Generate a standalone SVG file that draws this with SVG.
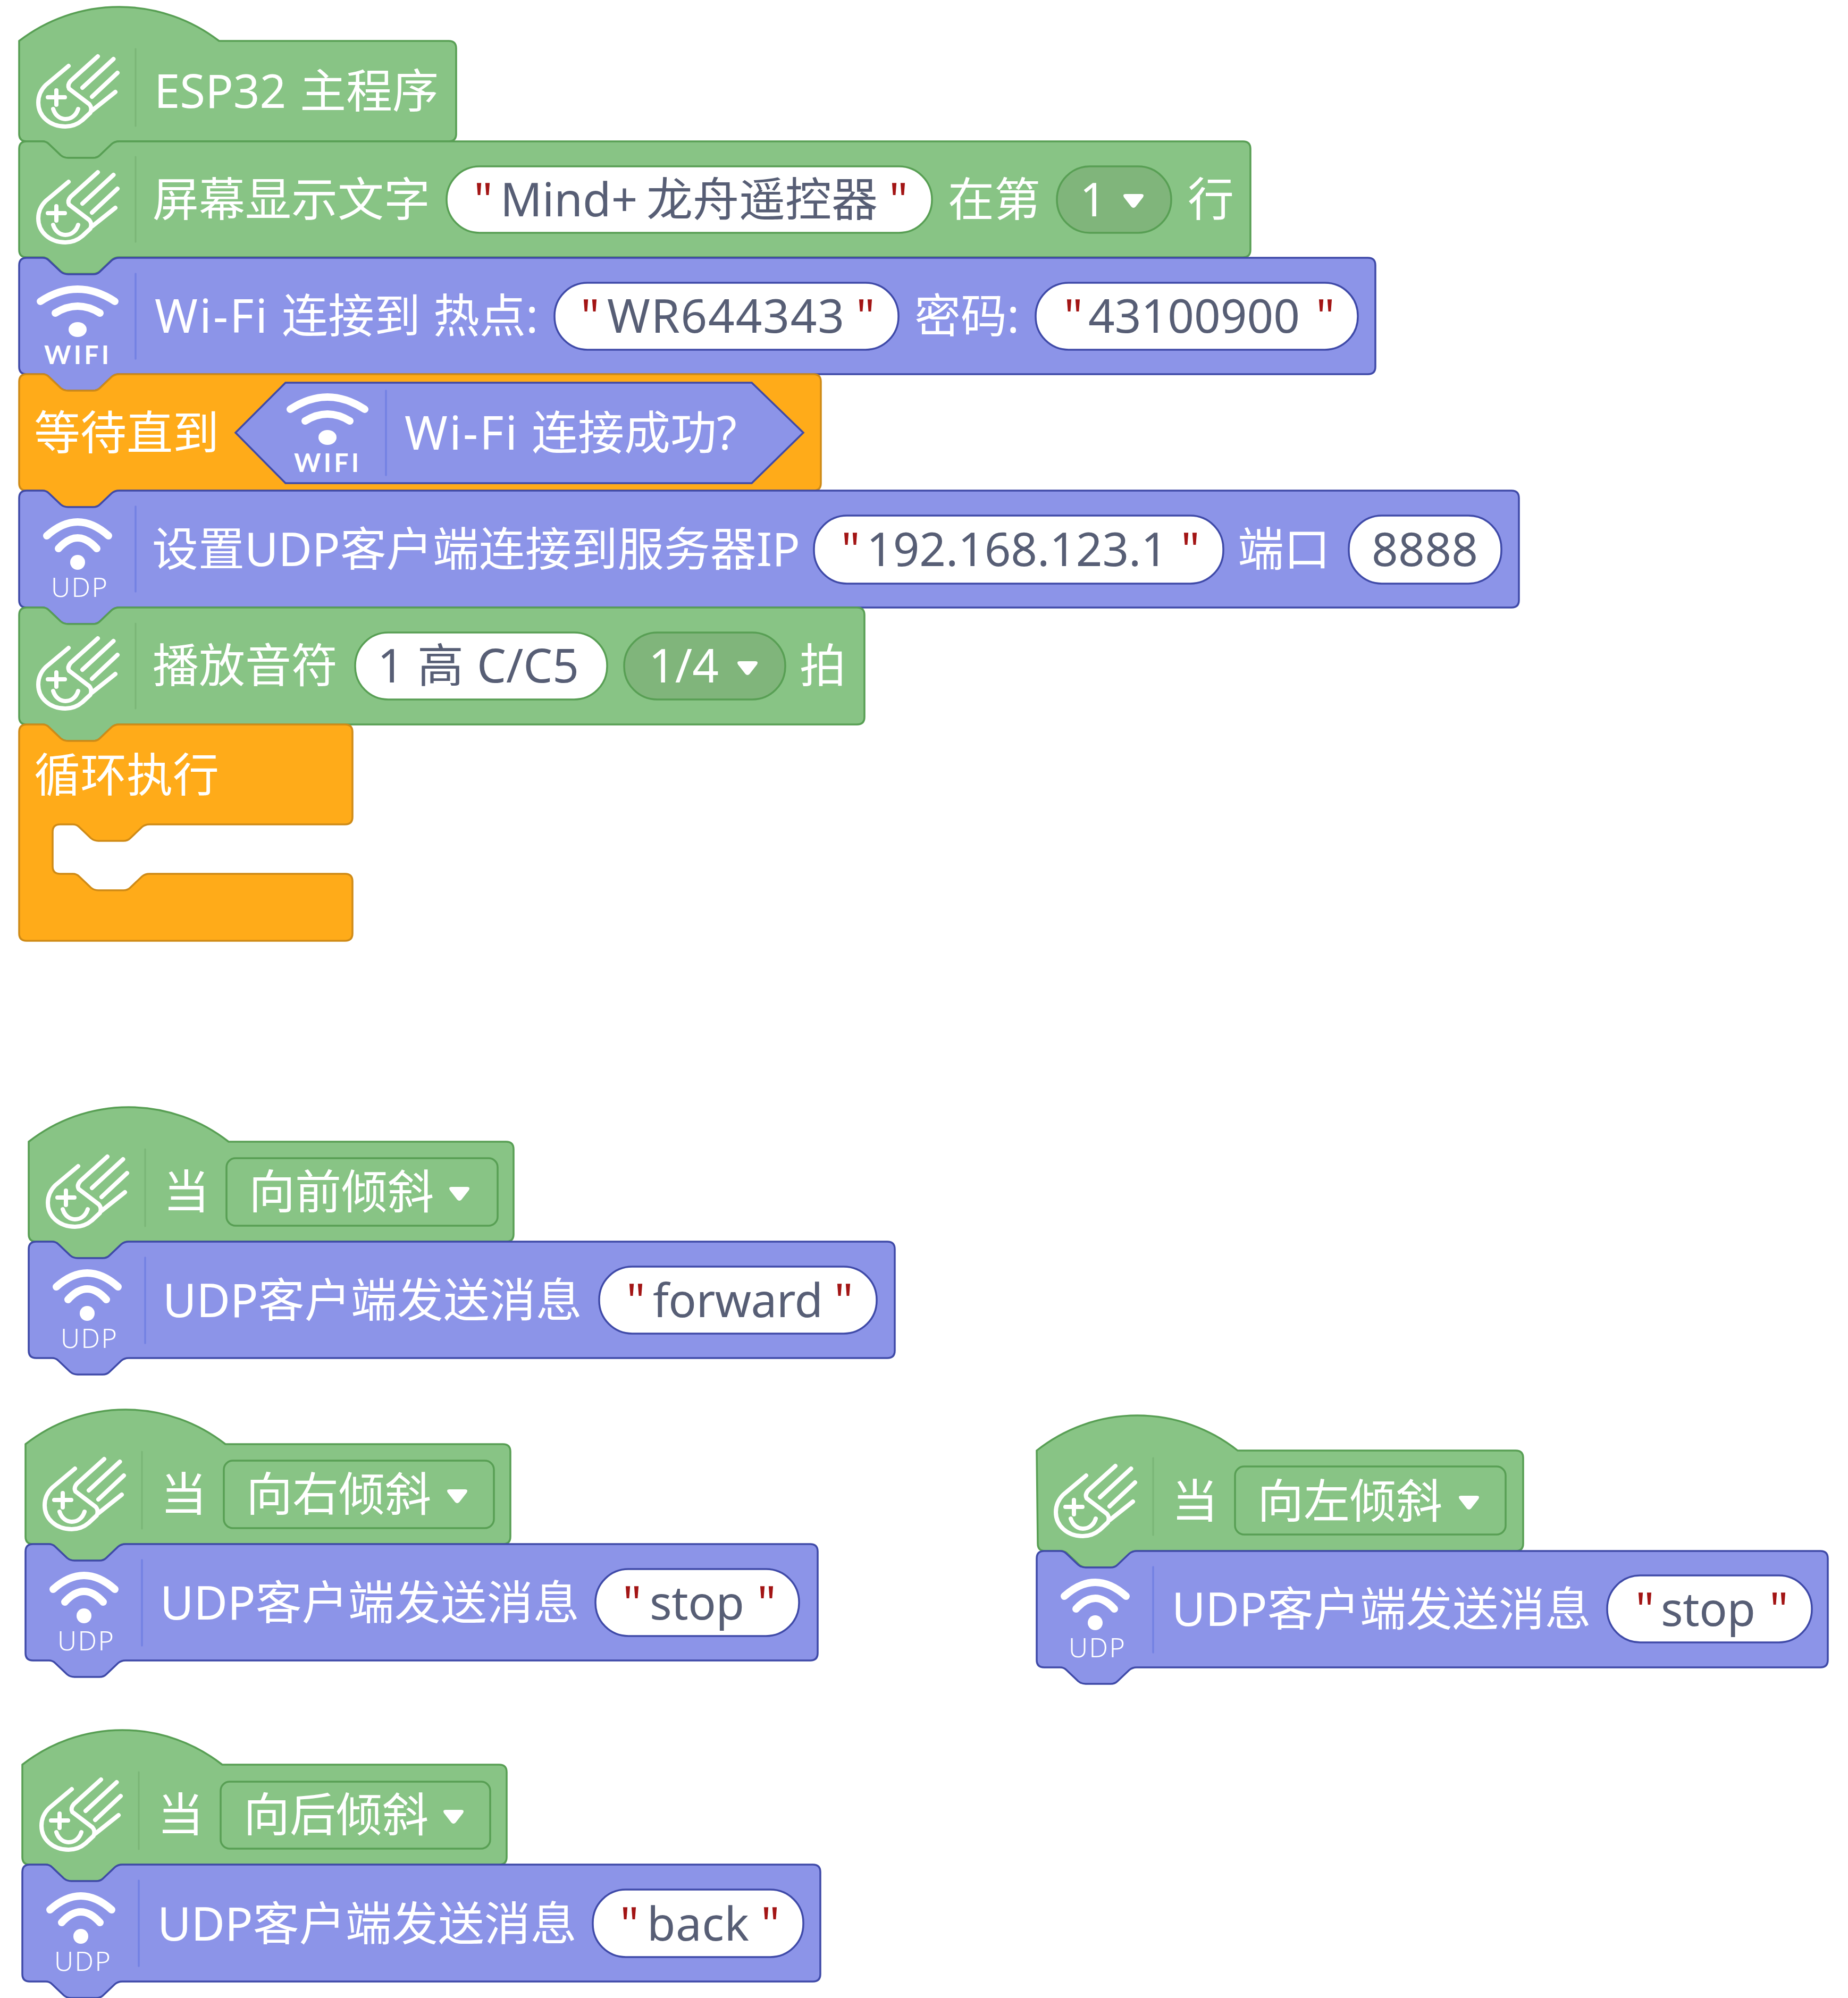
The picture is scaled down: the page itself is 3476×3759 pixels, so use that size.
<svg xmlns="http://www.w3.org/2000/svg" width="3476" height="3759" viewBox="0 0 3476 3759">
<style>
text{font-family:"Noto Sans","Noto Sans CJK SC",sans-serif;font-size:87px;font-weight:400}
.t{fill:#fff}.v{fill:#575e75}.q{fill:#a31515;text-anchor:middle}
.s{fill:#fff;font-size:50px;font-weight:300}.w{fill:#fff;font-family:Lato,"Noto Sans",sans-serif;font-size:48px;font-weight:700}
.g{fill:#88c485;stroke:#589f54;stroke-width:3.5}.b{fill:#8c94e8;stroke:#3f4aa8;stroke-width:3.5}.o{fill:#ffab19;stroke:#cf8b17;stroke-width:3.5}
.pg{fill:#fff;stroke:#589f54;stroke-width:3.5}.pb{fill:#fff;stroke:#3f4aa8;stroke-width:3.5}
.dg{fill:#80b57b;stroke:#589f54;stroke-width:3.5}.hd{fill:#88c485;stroke:#589f54;stroke-width:3.5}
.dvg{stroke:#7ab577;stroke-width:3;stroke-linecap:round}.dvb{stroke:#7381e3;stroke-width:3.5;stroke-linecap:round}
.ic{fill:none;stroke:#fff;stroke-linecap:round;stroke-linejoin:round}
</style>
<defs>
<g id="ml" class="ic" stroke-width="8"><path d="M148,58 L97,104 Q90,112 94,119 L132,148 Q138,155 134,164 L119,178 Q105,190 87,190 C57,190 36,170 36,145 C36,130 42,120 50,112 L93,76"/><path d="M177.5,63 L119,117 M185,89 L137,134 M181,125 L137,160 M54,135 H86 M70,122 V149"/><path d="M64,157 C68,170 78,176 87,176 C97,176 107,170 111,157"/></g>
<g id="wifi"><path class="ic" stroke-width="14" d="M40,82 Q110,36 180,82 M68,104 Q110,78 152,104"/><ellipse cx="110" cy="135" rx="17" ry="14" fill="#fff"/></g>
<g id="udp"><path class="ic" stroke-width="14" d="M52,85 Q110,33 168,85 M74,109 Q110,69 146,109"/><ellipse cx="110" cy="135" rx="14" ry="14" fill="#fff"/></g>
<path id="arr" fill="#fff" d="M-15,-13 H15 Q21,-13 18,-7 L4,11 Q0,15 -4,11 L-18,-7 Q-21,-13 -15,-13 Z"/>
</defs>

<g id="block-main">
<path class="g" d="M36,77 a308,308 0 0 1 376,0 h432 q14,0 14,14 v161 q0,14 -14,14 h-620 q-8,0 -14,5 l-22,21 q-5,5 -13,5 h-47 q-8,0 -14,-5 l-22,-21 q-5,-5 -12,-5 h-30 q-14,0 -14,-14 z"/>
<use href="#ml" transform="translate(36,48)"/>
<line class="dvg" x1="255" y1="92" x2="255" y2="237"/>
<text class="t" x="290" y="203">ESP32</text>
<text class="t" x="564" y="203">主程序</text>
</g>

<g id="block-screen">
<path class="g" d="M36,280 q0,-14 14,-14 h30 q7,0 12,5 l22,21 q6,5 14,5 h47 q8,0 13,-5 l22,-21 q6,-5 14,-5 h2114 q14,0 14,14 v190 q0,14 -14,14 h-2114 q-8,0 -14,5 l-22,21 q-5,5 -13,5 h-47 q-8,0 -14,-5 l-22,-21 q-5,-5 -12,-5 h-30 q-14,0 -14,-14 z"/>
<use href="#ml" transform="translate(36,266)"/>
<line class="dvg" x1="255" y1="295" x2="255" y2="455"/>
<text class="t" x="287" y="407">屏幕显示文字</text>
<rect class="pg" x="840" y="313" width="913" height="125" rx="62"/>
<text class="q" x="909" y="407">"</text>
<text class="v" x="941" y="407">Mind+</text>
<text class="v" x="1216" y="407">龙舟遥控器</text>
<text class="q" x="1690" y="407">"</text>
<text class="t" x="1783" y="407">在第</text>
<rect class="dg" x="1988" y="313" width="215" height="125" rx="62"/>
<text class="t" x="2031" y="407">1</text>
<use href="#arr" x="2132" y="378"/>
<text class="t" x="2234" y="407">行</text>
</g>

<g id="block-wifi-connect">
<path class="b" d="M36,499 q0,-14 14,-14 h30 q7,0 12,5 l22,21 q6,5 14,5 h47 q8,0 13,-5 l22,-21 q6,-5 14,-5 h2349 q14,0 14,14 v191 q0,14 -14,14 h-2349 q-8,0 -14,5 l-22,21 q-5,5 -13,5 h-47 q-8,0 -14,-5 l-22,-21 q-5,-5 -12,-5 h-30 q-14,0 -14,-14 z"/>
<use href="#wifi" transform="translate(36,485)"/>
<text class="w" x="83" y="685" textLength="122">WIFI</text>
<line class="dvb" x1="255" y1="515" x2="255" y2="675"/>
<text class="t" x="291" y="626" textLength="212">Wi-Fi</text>
<text class="t" x="530" y="626">连接到</text>
<text class="t" x="815" y="626">热点:</text>
<rect class="pb" x="1043" y="532" width="647" height="126" rx="62"/>
<text class="q" x="1110" y="626">"</text>
<text class="v" x="1142" y="626" textLength="446">WR644343</text>
<text class="q" x="1628" y="626">"</text>
<text class="t" x="1720" y="626">密码:</text>
<rect class="pb" x="1948" y="532" width="606" height="126" rx="62"/>
<text class="q" x="2019" y="626">"</text>
<text class="v" x="2047" y="626">43100900</text>
<text class="q" x="2493" y="626">"</text>
</g>

<g id="block-wait">
<path class="o" d="M36,718 q0,-14 14,-14 h30 q7,0 12,5 l22,21 q6,5 14,5 h47 q8,0 13,-5 l22,-21 q6,-5 14,-5 h1306 q14,0 14,14 v191 q0,14 -14,14 h-1306 q-8,0 -14,5 l-22,21 q-5,5 -13,5 h-47 q-8,0 -14,-5 l-22,-21 q-5,-5 -12,-5 h-30 q-14,0 -14,-14 z"/>
<text class="t" x="64" y="846">等待直到</text>
<path class="b" d="M537,720 H1414 L1511,814 L1414,909 H537 L443,814 Z"/>
<use href="#wifi" transform="translate(506,688)"/>
<text class="w" x="553" y="888" textLength="122">WIFI</text>
<line class="dvb" x1="726" y1="735" x2="726" y2="894"/>
<text class="t" x="761" y="846" textLength="212">Wi-Fi</text>
<text class="t" x="1000" y="846">连接成功?</text>
</g>

<g id="block-udp-connect">
<path class="b" d="M36,937 q0,-14 14,-14 h30 q7,0 12,5 l22,21 q6,5 14,5 h47 q8,0 13,-5 l22,-21 q6,-5 14,-5 h2619 q14,0 14,14 v192 q0,14 -14,14 h-2619 q-8,0 -14,5 l-22,21 q-5,5 -13,5 h-47 q-8,0 -14,-5 l-22,-21 q-5,-5 -12,-5 h-30 q-14,0 -14,-14 z"/>
<use href="#udp" transform="translate(36,923)"/>
<text class="s" x="96" y="1123" textLength="106">UDP</text>
<line class="dvb" x1="255" y1="953" x2="255" y2="1113"/>
<text class="t" x="286" y="1065">设置UDP客户端连接到服务器IP</text>
<rect class="pb" x="1531" y="970" width="770" height="128" rx="62"/>
<text class="q" x="1600" y="1065">"</text>
<text class="v" x="1630" y="1065" textLength="566">192.168.123.1</text>
<text class="q" x="2239" y="1065">"</text>
<text class="t" x="2328" y="1065">端口</text>
<rect class="pb" x="2537" y="970" width="287" height="128" rx="62"/>
<text class="v" x="2580" y="1065" textLength="200">8888</text>
</g>

<g id="block-note">
<path class="g" d="M36,1157 q0,-14 14,-14 h30 q7,0 12,5 l22,21 q6,5 14,5 h47 q8,0 13,-5 l22,-21 q6,-5 14,-5 h1388 q14,0 14,14 v192 q0,14 -14,14 h-1388 q-8,0 -14,5 l-22,21 q-5,5 -13,5 h-47 q-8,0 -14,-5 l-22,-21 q-5,-5 -12,-5 h-30 q-14,0 -14,-14 z"/>
<use href="#ml" transform="translate(36,1143)"/>
<line class="dvg" x1="255" y1="1173" x2="255" y2="1333"/>
<text class="t" x="287" y="1284">播放音符</text>
<rect class="pg" x="668" y="1190" width="474" height="126" rx="62"/>
<text class="v" x="710" y="1284">1</text>
<text class="v" x="785" y="1284">高</text>
<text class="v" x="897" y="1284">C/C5</text>
<rect class="dg" x="1174" y="1190" width="303" height="126" rx="62"/>
<text class="t" x="1220" y="1284">1/4</text>
<use href="#arr" x="1406" y="1257"/>
<text class="t" x="1504" y="1284">拍</text>
</g>

<g id="block-loop">
<path class="o" d="M36,1377 q0,-14 14,-14 h30 q7,0 12,5 l22,21 q6,5 14,5 h47 q8,0 13,-5 l22,-21 q6,-5 14,-5 h425 q14,0 14,14 v160 q0,14 -14,14 h-368 q-8,0 -14,5 l-22,21 q-5,5 -13,5 h-47 q-8,0 -14,-5 l-22,-21 q-5,-5 -12,-5 h-24 q-14,0 -14,14 v65 q0,14 14,14 h24 q7,0 12,5 l22,21 q6,5 14,5 h47 q8,0 13,-5 l22,-21 q6,-5 14,-5 h368 q14,0 14,14 v98 q0,14 -14,14 h-599 q-14,0 -14,-14 z"/>
<text class="t" x="64" y="1490">循环执行</text>
</g>

<g id="hat-forward">
<path class="g" d="M54,2148 a304,304 0 0 1 376,0 h522 q14,0 14,14 v160 q0,14 -14,14 h-710 q-8,0 -14,5 l-22,21 q-5,5 -13,5 h-47 q-8,0 -14,-5 l-22,-21 q-5,-5 -12,-5 h-30 q-14,0 -14,-14 z"/>
<use href="#ml" transform="translate(54,2118)"/>
<line class="dvg" x1="273" y1="2162" x2="273" y2="2307"/>
<text class="t" x="307" y="2274">当</text>
<rect class="hd" x="426" y="2179" width="510" height="127" rx="17"/>
<text class="t" x="468" y="2274">向前倾斜</text>
<use href="#arr" x="864" y="2246"/>
</g>
<g id="send-forward">
<path class="b" d="M54,2350 q0,-14 14,-14 h30 q7,0 12,5 l22,21 q6,5 14,5 h47 q8,0 13,-5 l22,-21 q6,-5 14,-5 h1427 q14,0 14,14 v191 q0,14 -14,14 h-1427 q-8,0 -14,5 l-22,21 q-5,5 -13,5 h-47 q-8,0 -14,-5 l-22,-21 q-5,-5 -12,-5 h-30 q-14,0 -14,-14 z"/>
<use href="#udp" transform="translate(54,2336)"/>
<text class="s" x="114" y="2536" textLength="106">UDP</text>
<line class="dvb" x1="273" y1="2366" x2="273" y2="2527"/>
<text class="t" x="306" y="2478">UDP客户端发送消息</text>
<rect class="pb" x="1127" y="2383" width="522" height="126" rx="62"/>
<text class="q" x="1196" y="2478">"</text>
<text class="v" x="1228" y="2478" textLength="320">forward</text>
<text class="q" x="1587" y="2478">"</text>
</g>

<g id="hat-right">
<path class="g" d="M48,2717 a304,304 0 0 1 376,0 h522 q14,0 14,14 v160 q0,14 -14,14 h-710 q-8,0 -14,5 l-22,21 q-5,5 -13,5 h-47 q-8,0 -14,-5 l-22,-21 q-5,-5 -12,-5 h-30 q-14,0 -14,-14 z"/>
<use href="#ml" transform="translate(48,2687)"/>
<line class="dvg" x1="267" y1="2731" x2="267" y2="2876"/>
<text class="t" x="302" y="2843">当</text>
<rect class="hd" x="421" y="2748" width="508" height="127" rx="17"/>
<text class="t" x="463" y="2843">向右倾斜</text>
<use href="#arr" x="860" y="2815"/>
</g>
<g id="send-right">
<path class="b" d="M48,2919 q0,-14 14,-14 h30 q7,0 12,5 l22,21 q6,5 14,5 h47 q8,0 13,-5 l22,-21 q6,-5 14,-5 h1288 q14,0 14,14 v191 q0,14 -14,14 h-1288 q-8,0 -14,5 l-22,21 q-5,5 -13,5 h-47 q-8,0 -14,-5 l-22,-21 q-5,-5 -12,-5 h-30 q-14,0 -14,-14 z"/>
<use href="#udp" transform="translate(48,2905)"/>
<text class="s" x="108" y="3105" textLength="106">UDP</text>
<line class="dvb" x1="267" y1="2935" x2="267" y2="3096"/>
<text class="t" x="301" y="3047">UDP客户端发送消息</text>
<rect class="pb" x="1120" y="2952" width="383" height="126" rx="62"/>
<text class="q" x="1189" y="3047">"</text>
<text class="v" x="1222" y="3047" textLength="178">stop</text>
<text class="q" x="1442" y="3047">"</text>
</g>

<g id="hat-left">
<path class="g" d="M1950,2729 a304,304 0 0 1 378,0 h523 q14,0 14,14 v161 q0,14 -14,14 h-711 q-8,0 -14,5 l-22,21 q-5,5 -13,5 h-47 q-8,0 -14,-5 l-22,-21 q-5,-5 -12,-5 h-30 q-14,0 -14,-14 z"/>
<use href="#ml" transform="translate(1950,2700)"/>
<line class="dvg" x1="2169" y1="2743" x2="2169" y2="2888"/>
<text class="t" x="2204" y="2856">当</text>
<rect class="hd" x="2323" y="2759" width="509" height="128" rx="17"/>
<text class="t" x="2365" y="2856">向左倾斜</text>
<use href="#arr" x="2763" y="2827"/>
</g>
<g id="send-left">
<path class="b" d="M1950,2932 q0,-14 14,-14 h30 q7,0 12,5 l22,21 q6,5 14,5 h47 q8,0 13,-5 l22,-21 q6,-5 14,-5 h1286 q14,0 14,14 v191 q0,14 -14,14 h-1286 q-8,0 -14,5 l-22,21 q-5,5 -13,5 h-47 q-8,0 -14,-5 l-22,-21 q-5,-5 -12,-5 h-30 q-14,0 -14,-14 z"/>
<use href="#udp" transform="translate(1950,2918)"/>
<text class="s" x="2010" y="3118" textLength="106">UDP</text>
<line class="dvb" x1="2169" y1="2948" x2="2169" y2="3109"/>
<text class="t" x="2204" y="3059">UDP客户端发送消息</text>
<rect class="pb" x="3023" y="2964" width="385" height="126" rx="62"/>
<text class="q" x="3094" y="3059">"</text>
<text class="v" x="3124" y="3059" textLength="178">stop</text>
<text class="q" x="3346" y="3059">"</text>
</g>

<g id="hat-back">
<path class="g" d="M42,3320 a304,304 0 0 1 376,0 h521 q14,0 14,14 v160 q0,14 -14,14 h-709 q-8,0 -14,5 l-22,21 q-5,5 -13,5 h-47 q-8,0 -14,-5 l-22,-21 q-5,-5 -12,-5 h-30 q-14,0 -14,-14 z"/>
<use href="#ml" transform="translate(42,3290)"/>
<line class="dvg" x1="261" y1="3334" x2="261" y2="3479"/>
<text class="t" x="296" y="3446">当</text>
<rect class="hd" x="415" y="3352" width="507" height="126" rx="17"/>
<text class="t" x="458" y="3446">向后倾斜</text>
<use href="#arr" x="853" y="3418"/>
</g>
<g id="send-back">
<path class="b" d="M42,3522 q0,-14 14,-14 h30 q7,0 12,5 l22,21 q6,5 14,5 h47 q8,0 13,-5 l22,-21 q6,-5 14,-5 h1299 q14,0 14,14 v192 q0,14 -14,14 h-1299 q-8,0 -14,5 l-22,21 q-5,5 -13,5 h-47 q-8,0 -14,-5 l-22,-21 q-5,-5 -12,-5 h-30 q-14,0 -14,-14 z"/>
<use href="#udp" transform="translate(42,3508)"/>
<text class="s" x="102" y="3708" textLength="106">UDP</text>
<line class="dvb" x1="261" y1="3538" x2="261" y2="3699"/>
<text class="t" x="296" y="3651">UDP客户端发送消息</text>
<rect class="pb" x="1115" y="3555" width="396" height="127" rx="62"/>
<text class="q" x="1184" y="3651">"</text>
<text class="v" x="1217" y="3651" textLength="192">back</text>
<text class="q" x="1449" y="3651">"</text>
</g>
</svg>
